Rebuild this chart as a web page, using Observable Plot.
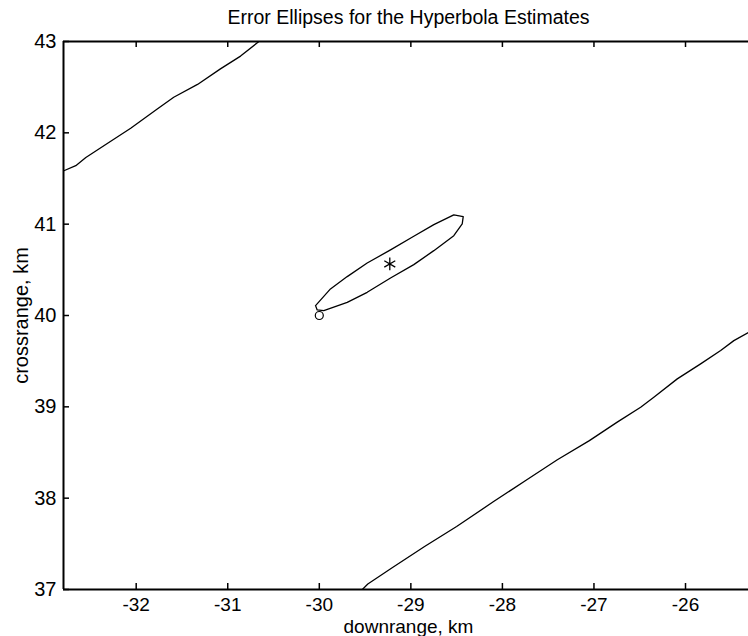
<!DOCTYPE html>
<html><head><meta charset="utf-8">
<script src="https://cdn.jsdelivr.net/npm/d3@7"></script>
<script src="https://cdn.jsdelivr.net/npm/@observablehq/plot@0.6"></script>
<style>body{margin:0;background:#fff}</style>
</head><body><div id="chart"></div>
<script>
const titleText = "Error Ellipses for the Hyperbola Estimates";
const xLabel = "downrange, km";
const yLabel = "crossrange, km";
const xDomain = [-32.794, -25.312];
const yDomain = [37, 43];
const xTicks = [-32, -31, -30, -29, -28, -27, -26];
const yTicks = [37, 38, 39, 40, 41, 42, 43];

// upper-left hyperbola branch
const upperBranchX = [-32.86, -32.79, -32.66, -32.55, -32.32, -32.06, -31.77, -31.59, -31.33, -31.08, -30.86, -30.66, -30.60];
const upperBranchY = [41.54, 41.585, 41.64, 41.73, 41.88, 42.05, 42.26, 42.39, 42.53, 42.70, 42.84, 43.0, 43.04];

// lower-right hyperbola branch
const lowerBranchX = [-29.56, -29.53, -29.47, -29.2, -28.85, -28.5, -28.1, -27.75, -27.4, -27.05, -26.75, -26.49, -26.346, -26.09, -25.835, -25.616, -25.472, -25.31, -25.25];
const lowerBranchY = [36.98, 37.0, 37.06, 37.24, 37.47, 37.69, 37.96, 38.19, 38.42, 38.63, 38.83, 38.996, 39.105, 39.306, 39.47, 39.616, 39.725, 39.816, 39.85];

// error ellipse (closed)
const ellipseX = [-30.041, -29.878, -29.695, -29.477, -29.222, -28.968, -28.749, -28.531, -28.428, -28.439, -28.531, -28.749, -28.968, -29.222, -29.477, -29.695, -29.951, -30.023, -30.041];
const ellipseY = [40.108, 40.291, 40.426, 40.575, 40.718, 40.867, 40.995, 41.101, 41.082, 41.002, 40.874, 40.710, 40.557, 40.411, 40.254, 40.144, 40.054, 40.061, 40.108];

const estimateX = [-29.23], estimateY = [40.565];
const trueX = [-30.0], trueY = [40.0];

const zip = (xs, ys) => xs.map((x, i) => ({x, y: ys[i]}));
const upper = zip(upperBranchX, upperBranchY);
const lower = zip(lowerBranchX, lowerBranchY);
const ellipse = zip(ellipseX, ellipseY);
const estimate = zip(estimateX, estimateY);
const truth = zip(trueX, trueY);

const W = 748, H = 636;
const mT = 41, mB = 47, mL = 63, mR = 0;
const plotH = H - mT - mB, plotW = W - mL - mR;
const tick = 6;
const font = "'Liberation Sans', Arial, Helvetica, sans-serif";

const chart = Plot.plot({
  width: W, height: H,
  marginTop: mT, marginBottom: mB, marginLeft: mL, marginRight: mR,
  style: {fontFamily: font, fontSize: "19px", background: "#fff", color: "#000"},
  x: {domain: xDomain, axis: null},
  y: {domain: yDomain, axis: null},
  marks: [
    Plot.line(upper, {x: "x", y: "y", stroke: "#000", strokeWidth: 1.3, clip: true}),
    Plot.line(lower, {x: "x", y: "y", stroke: "#000", strokeWidth: 1.3, clip: true}),
    Plot.line(ellipse, {x: "x", y: "y", stroke: "#000", strokeWidth: 1.3, curve: "linear"}),
    Plot.dot(estimate, {x: "x", y: "y", symbol: "asterisk", r: 6, stroke: "#000", strokeWidth: 1.3}),
    Plot.dot(truth, {x: "x", y: "y", symbol: "circle", r: 4, stroke: "#000", fill: "none", strokeWidth: 1.2}),
    // box lines
    Plot.ruleY(yDomain, {y: d => d, stroke: "#000", strokeWidth: 2}),
    Plot.ruleX([xDomain[0]], {x: d => d, stroke: "#000", strokeWidth: 2}),
    // inward ticks
    Plot.ruleX(xTicks, {x: d => d, insetTop: plotH - tick, stroke: "#000", strokeWidth: 1.5}),
    Plot.ruleX(xTicks, {x: d => d, insetBottom: plotH - tick, stroke: "#000", strokeWidth: 1.5}),
    Plot.ruleY(yTicks, {y: d => d, insetRight: plotW - tick, stroke: "#000", strokeWidth: 1.5}),
    // tick labels
    Plot.axisX(xTicks, {anchor: "bottom", tickSize: 0, tickPadding: 8, tickFormat: d => String(d), label: null, fontSize: 19}),
    Plot.axisY(yTicks, {anchor: "left", tickSize: 0, tickPadding: 7, tickFormat: d => String(d), label: null, fontSize: 20}),
    // titles
    Plot.text([titleText], {text: d => d, frameAnchor: "top", lineAnchor: "bottom", dy: -18, dx: 2.5, fontSize: 19.5}),
    Plot.text([xLabel], {text: d => d, frameAnchor: "bottom", lineAnchor: "bottom", dy: 43, dx: 2.5, fontSize: 19}),
    Plot.text([yLabel], {text: d => d, frameAnchor: "left", textAnchor: "middle", rotate: -90, lineAnchor: "middle", dx: -42, fontSize: 20})
  ]
});
document.getElementById("chart").appendChild(chart);
</script>
</body></html>
